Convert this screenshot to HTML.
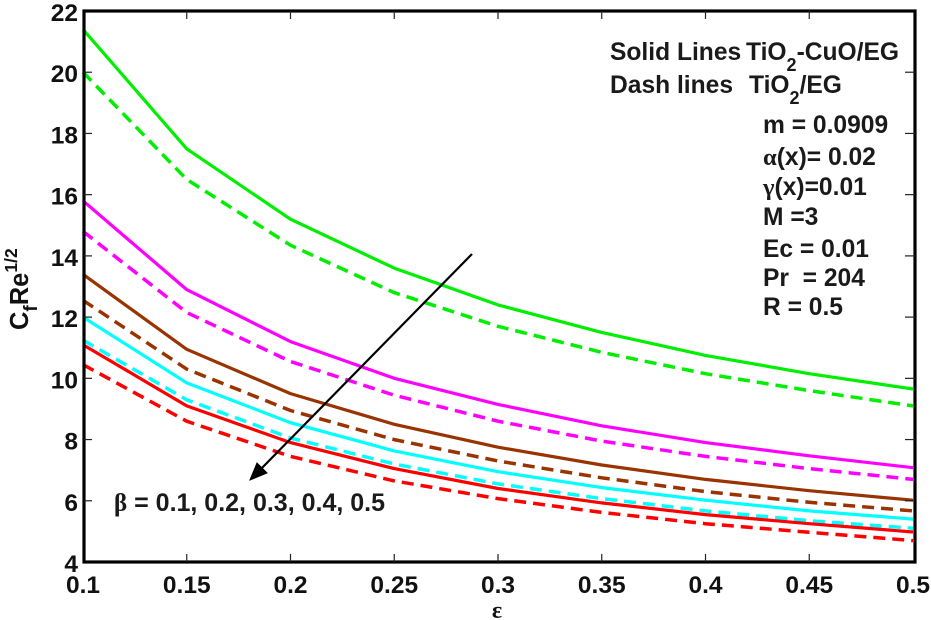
<!DOCTYPE html>
<html>
<head>
<meta charset="utf-8">
<style>
html,body{margin:0;padding:0;background:#fff;width:931px;height:620px;overflow:hidden}
svg{display:block}
text{font-family:"Liberation Sans",sans-serif;fill:#111}
.tick{font-size:24.5px;font-weight:bold}
.note{font-size:24.6px;font-weight:bold;fill:#1a1a1a;white-space:pre}
.sub{font-size:18px}
.sym{font-family:"Liberation Serif",serif}
</style>
</head>
<body>
<svg id="chart" width="931" height="620" viewBox="0 0 931 620" xmlns="http://www.w3.org/2000/svg">
  <g id="series"></g>
  <g id="axes"></g>
  <g id="labels"></g>

  <text x="497" y="618" class="sym" font-size="24" font-weight="bold" text-anchor="middle">ε</text>
  <text transform="translate(28,330) rotate(-90)" font-size="25.5" font-weight="bold">C<tspan font-size="19" dy="9">f</tspan><tspan dy="-9">Re</tspan><tspan font-size="17.5" dy="-11">1/2</tspan></text>

  <text class="note" x="610" y="60">Solid Lines<tspan x="746">TiO</tspan><tspan class="sub" dy="11">2</tspan><tspan dy="-11">-CuO/EG</tspan></text>
  <text class="note" x="610" y="93">Dash lines<tspan x="749">TiO</tspan><tspan class="sub" dy="11">2</tspan><tspan dy="-11">/EG</tspan></text>
  <text class="note" x="763" y="133">m = 0.0909</text>
  <text class="note" x="763" y="165"><tspan class="sym">α</tspan>(x)= 0.02</text>
  <text class="note" x="763" y="195"><tspan class="sym">γ</tspan>(x)=0.01</text>
  <text class="note" x="763" y="225">M =3</text>
  <text class="note" x="763" y="257">Ec = 0.01</text>
  <text class="note" x="763" y="286">Pr  = 204</text>
  <text class="note" x="763" y="315">R = 0.5</text>
  <text class="note" x="114" y="511" style="font-size:25px"><tspan class="sym">β</tspan> = 0.1, 0.2, 0.3, 0.4, 0.5</text>

  <line x1="472" y1="254" x2="258" y2="472" stroke="#000" stroke-width="2.2"/>
  <polygon points="250,480 257,463 267,473" fill="#000" stroke="#000" stroke-width="1"/>
</svg>
<script>
var xValues = [0.1, 0.15, 0.2, 0.25, 0.3, 0.35, 0.4, 0.45, 0.5];
var xTickLabels = ["0.1", "0.15", "0.2", "0.25", "0.3", "0.35", "0.4", "0.45", "0.5"];
var yTicks = [4, 6, 8, 10, 12, 14, 16, 18, 20, 22];

var greenSolid = [21.4, 17.5, 15.2, 13.6, 12.4, 11.5, 10.75, 10.15, 9.65];
var greenDash = [20.0, 16.5, 14.35, 12.8, 11.7, 10.85, 10.15, 9.6, 9.1];
var magentaSolid = [15.8, 12.9, 11.2, 10.0, 9.15, 8.45, 7.9, 7.47, 7.08];
var magentaDash = [14.8, 12.15, 10.55, 9.45, 8.6, 7.95, 7.45, 7.05, 6.7];
var brownSolid = [13.4, 10.95, 9.5, 8.5, 7.75, 7.17, 6.7, 6.33, 6.02];
var brownDash = [12.55, 10.3, 8.95, 8.0, 7.3, 6.75, 6.3, 5.95, 5.67];
var cyanSolid = [12.0, 9.85, 8.55, 7.63, 6.95, 6.43, 6.02, 5.67, 5.4];
var cyanDash = [11.25, 9.3, 8.05, 7.2, 6.55, 6.07, 5.67, 5.35, 5.1];
var redSolid = [11.1, 9.1, 7.9, 7.05, 6.4, 5.93, 5.55, 5.25, 4.98];
var redDash = [10.45, 8.6, 7.45, 6.65, 6.07, 5.62, 5.25, 4.97, 4.7];

var NS = 'http://www.w3.org/2000/svg';
function xAxis(v) { return 83 + (v - 0.1) / 0.4 * 830; }
function yAxis(v) { return 562 - (v - 4) / 18 * 551; }

function mk(tag, attrs, parent) {
  var el = document.createElementNS(NS, tag);
  for (var k in attrs) el.setAttribute(k, attrs[k]);
  parent.appendChild(el);
  return el;
}

function drawSeries(values, color, dashed, name) {
  var pts = values.map(function (v, i) {
    return xAxis(xValues[i]).toFixed(1) + ',' + yAxis(v).toFixed(1);
  }).join(' ');
  var attrs = { points: pts, fill: 'none', stroke: color, 'stroke-width': dashed ? 3.5 : 3.2, 'stroke-linejoin': 'round' };
  if (dashed) attrs['stroke-dasharray'] = '12 7';
  var line = mk('polyline', attrs, document.getElementById('series'));
  
  
}

drawSeries(greenDash, '#00ee00', true, 'series-green-dash');
drawSeries(greenSolid, '#00ee00', false, 'series-green-solid');
drawSeries(magentaDash, '#ff00ff', true, 'series-magenta-dash');
drawSeries(magentaSolid, '#ff00ff', false, 'series-magenta-solid');
drawSeries(brownDash, '#993300', true, 'series-brown-dash');
drawSeries(brownSolid, '#993300', false, 'series-brown-solid');
drawSeries(cyanDash, '#00ffff', true, 'series-cyan-dash');
drawSeries(cyanSolid, '#00ffff', false, 'series-cyan-solid');
drawSeries(redDash, '#ff0000', true, 'series-red-dash');
drawSeries(redSolid, '#ff0000', false, 'series-red-solid');

var axes = document.getElementById('axes');
var labels = document.getElementById('labels');

var frame = mk('rect', { x: 84, y: 11, width: 831, height: 551, fill: 'none', stroke: '#000', 'stroke-width': 3.2 }, axes);



xValues.forEach(function (v, i) {
  var x = xAxis(v);
  if (i > 0 && i < xValues.length - 1) {
    var b = mk('line', { x1: x, x2: x, y1: 562, y2: 554, stroke: '#222', 'stroke-width': 1.2 }, axes);
    
    
    var t = mk('line', { x1: x, x2: x, y1: 11, y2: 19, stroke: '#222', 'stroke-width': 1.2 }, axes);
    
    
  }
  var lab = mk('text', { x: x, y: 593, 'text-anchor': 'middle', 'class': 'tick' }, labels);
  
  
  lab.textContent = xTickLabels[i];
});

yTicks.forEach(function (v) {
  var y = yAxis(v);
  if (v > 4 && v < 22) {
    var l = mk('line', { x1: 84, x2: 92, y1: y, y2: y, stroke: '#222', 'stroke-width': 1.2 }, axes);
    
    
    var r = mk('line', { x1: 915, x2: 905, y1: y, y2: y, stroke: '#222', 'stroke-width': 1.2 }, axes);
    
    
  }
  var lab = mk('text', { x: 78, y: y + 10, 'text-anchor': 'end', 'class': 'tick' }, labels);
  
  
  lab.textContent = String(v);
});
</script>
</body>
</html>
